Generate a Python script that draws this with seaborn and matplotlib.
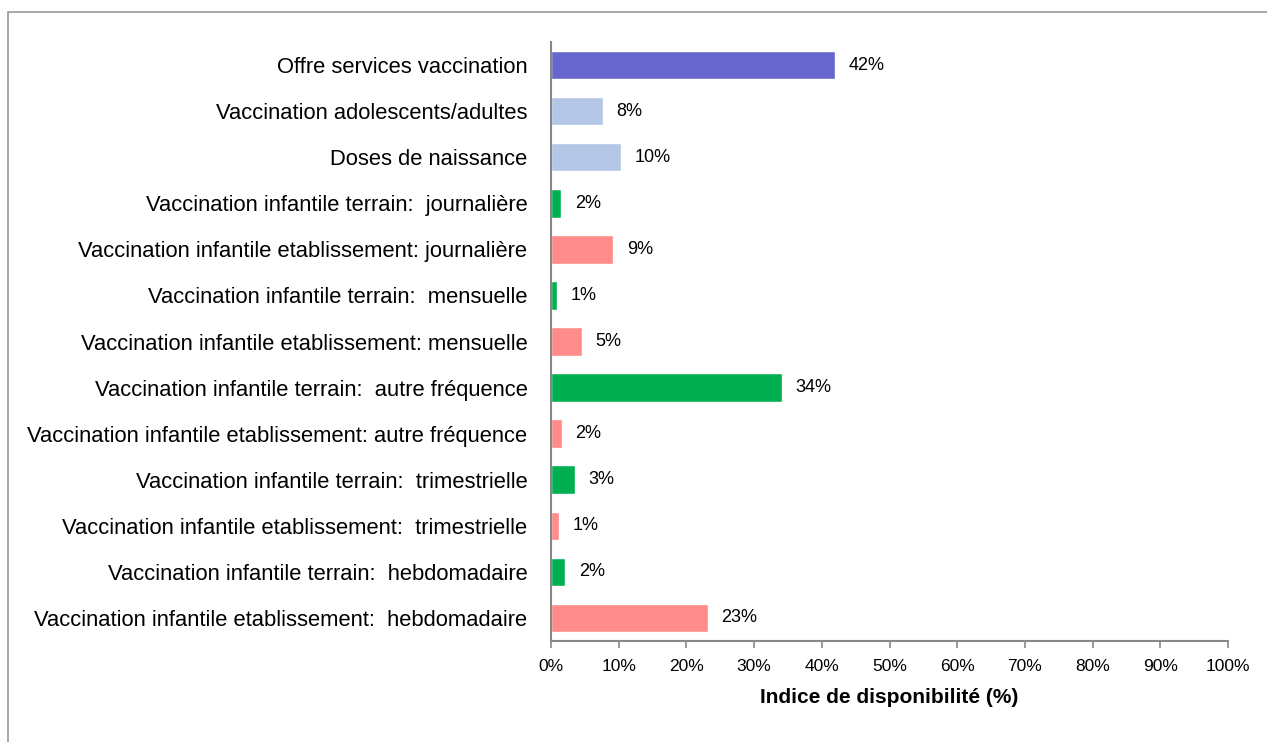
import matplotlib
matplotlib.use("Agg")
import matplotlib.pyplot as plt
import matplotlib.patches as mpatches
import seaborn as sns
import pandas as pd
from matplotlib.ticker import PercentFormatter

# Data
categories = [
    "Offre services vaccination",
    "Vaccination adolescents/adultes",
    "Doses de naissance",
    "Vaccination infantile terrain:  journalière",
    "Vaccination infantile etablissement: journalière",
    "Vaccination infantile terrain:  mensuelle",
    "Vaccination infantile etablissement: mensuelle",
    "Vaccination infantile terrain:  autre fréquence",
    "Vaccination infantile etablissement: autre fréquence",
    "Vaccination infantile terrain:  trimestrielle",
    "Vaccination infantile etablissement:  trimestrielle",
    "Vaccination infantile terrain:  hebdomadaire",
    "Vaccination infantile etablissement:  hebdomadaire",
]
values = [41.9, 7.7, 10.3, 1.5, 9.2, 0.9, 4.6, 34.1, 1.6, 3.5, 1.2, 2.1, 23.2]
value_labels = ["42%", "8%", "10%", "2%", "9%", "1%", "5%", "34%", "2%", "3%", "1%", "2%", "23%"]
groups = ["global", "other", "other", "terrain", "etab", "terrain", "etab",
          "terrain", "etab", "terrain", "etab", "terrain", "etab"]
group_colors = {"global": "#6666CC", "other": "#B4C7E7",
                "terrain": "#00B050", "etab": "#FF8B8B"}

df = pd.DataFrame({"cat": categories, "val": values, "grp": groups})

sns.set_style("white")
plt.rcParams["font.family"] = ["Liberation Sans", "DejaVu Sans"]
plt.rcParams["text.color"] = "black"
plt.rcParams["xtick.color"] = "black"
plt.rcParams["ytick.color"] = "black"
plt.rcParams["axes.labelcolor"] = "black"

fig = plt.figure(figsize=(12.67, 7.42), dpi=100)
ax = fig.add_axes([551 / 1267, 1 - 641 / 742, (1228 - 551) / 1267, (641 - 42) / 742])

sns.barplot(data=df, y="cat", x="val", hue="grp", palette=group_colors,
            dodge=False, legend=False, width=0.62, ax=ax, saturation=1)

for i, (v, lab) in enumerate(zip(values, value_labels)):
    ax.text(v + 2.0, i, lab, va="center", ha="left", fontsize=13)

ax.set_xlim(0, 100)
ax.set_ylim(12.5, -0.5)
ax.set_xticks(range(0, 101, 10))
ax.xaxis.set_major_formatter(PercentFormatter(decimals=0))
ax.tick_params(axis="x", labelsize=12.5, length=5, width=1.2, color="#888888",
               labelcolor="black", direction="out", pad=8, bottom=True)
ax.tick_params(axis="y", labelsize=15.8, length=0, pad=17, labelcolor="black")
ax.set_ylabel("")
ax.set_xlabel("Indice de disponibilité (%)", fontsize=15, fontweight="bold", labelpad=10)

for side in ["top", "right"]:
    ax.spines[side].set_visible(False)
for side in ["left", "bottom"]:
    ax.spines[side].set_color("#888888")
    ax.spines[side].set_linewidth(1.5)

# outer frame of the original figure box
frame = mpatches.Rectangle((8 / 1267, -0.1), 1.2, 1 - 12 / 742 + 0.1,
                           transform=fig.transFigure, fill=False,
                           edgecolor="#999999", linewidth=1.2)
fig.patches.append(frame)

fig.savefig("out.png", dpi=100)
